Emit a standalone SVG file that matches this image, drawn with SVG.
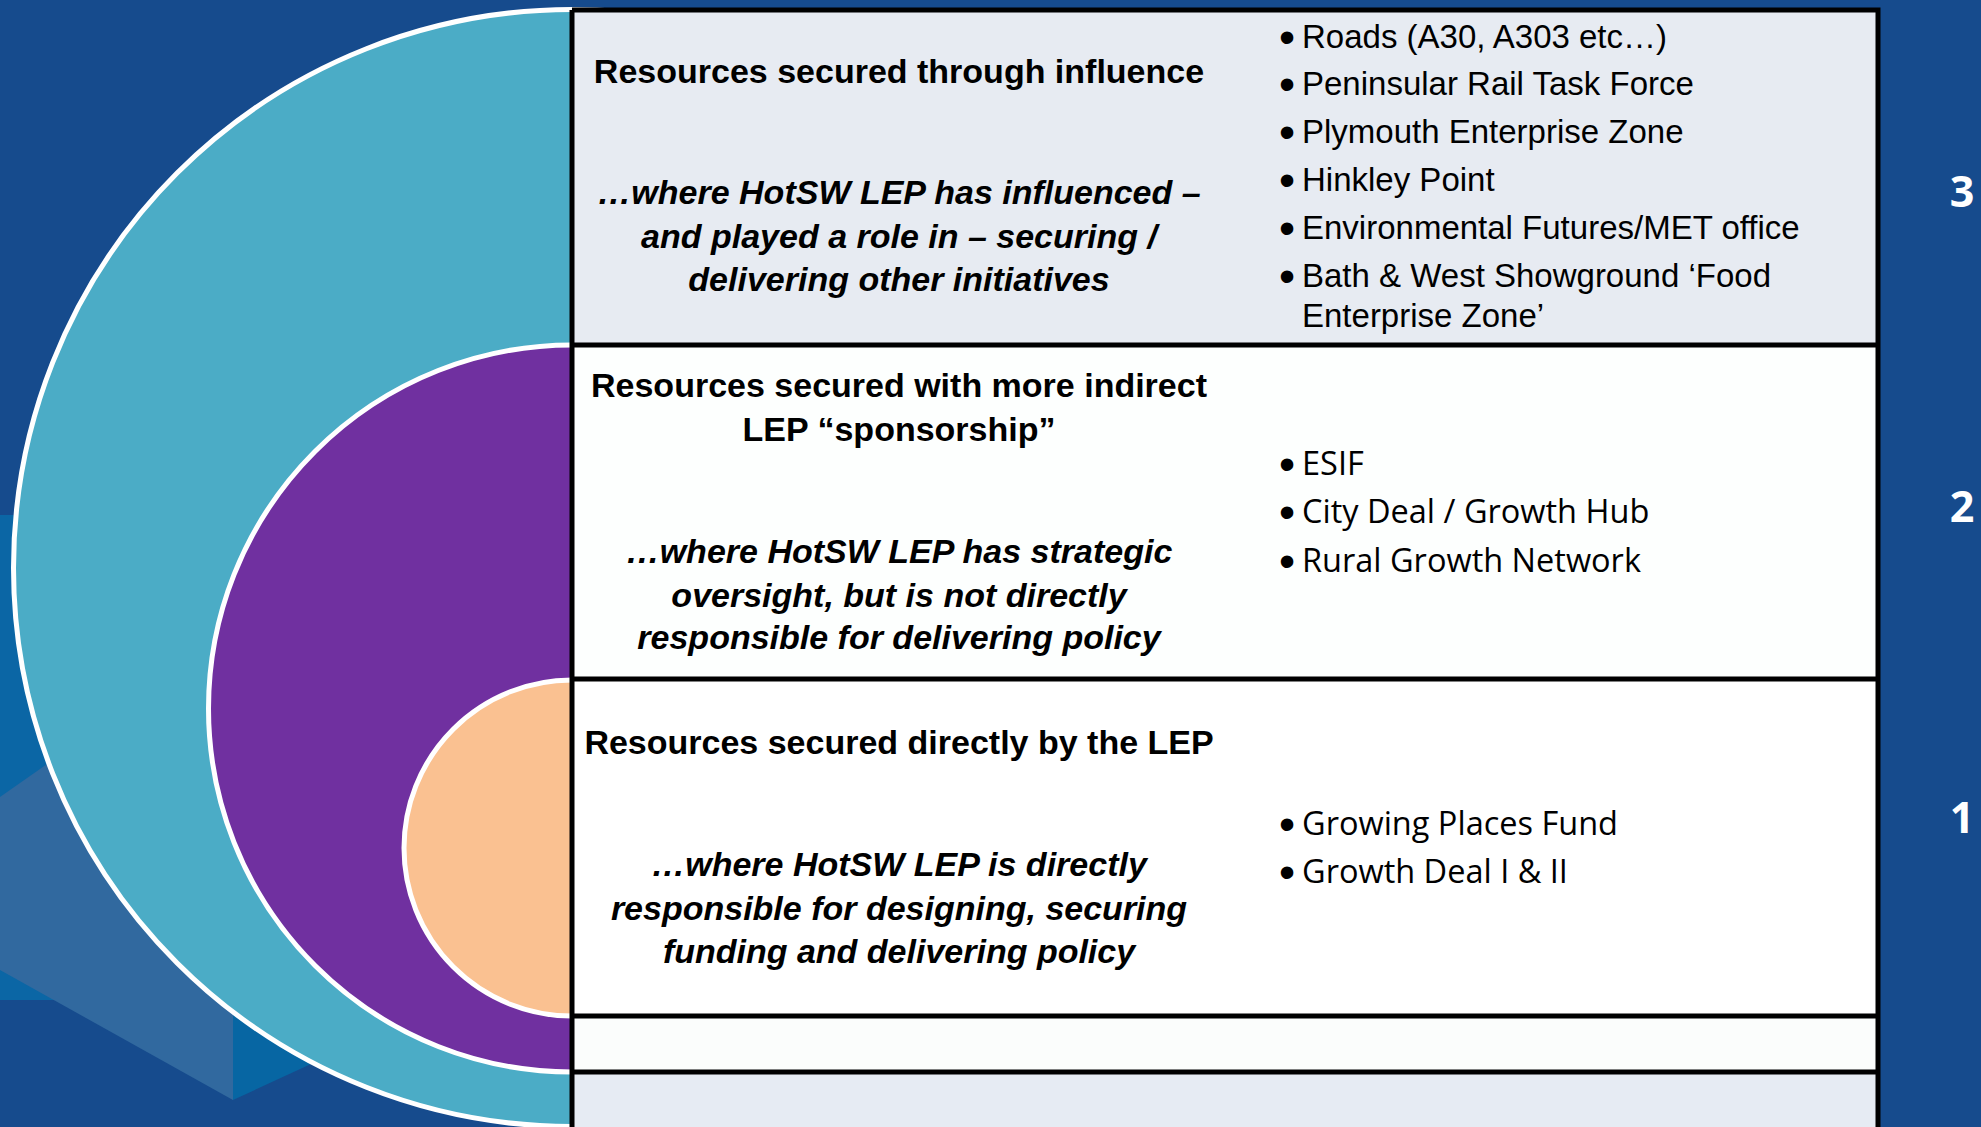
<svg xmlns="http://www.w3.org/2000/svg" width="1981" height="1127" viewBox="0 0 1981 1127">
<style>
.t{font-family:"Liberation Sans",Arial,sans-serif;font-size:34px;fill:#000}
.b{font-weight:bold}
.i{font-weight:bold;font-style:italic}
.c{text-anchor:middle}
.r1{font-size:33px}
.o{font-family:"Open Sans","Liberation Sans",sans-serif;font-size:32.5px}
.bul{font-family:"Liberation Sans",Arial,sans-serif;font-size:46px;fill:#000}
.num{font-family:"Open Sans","Liberation Sans",sans-serif;font-weight:700;font-size:43px;fill:#fff;text-anchor:middle}
.ring{stroke:#fff;stroke-width:5}
.grid{stroke:#000;stroke-width:5;fill:none}
</style>
<g id="background">
<rect x="0" y="0" width="1981" height="1127" fill="#164B8D"/>
<polygon points="0,515 140,515 140,1000 0,1000" fill="#0B66A5"/>
<polygon points="0,797 233,634 233,1100 0,970" fill="#31699F"/>
<polygon points="233,900 450,900 450,1000 233,1100" fill="#0766A3"/>
</g>
<g id="ring-outer">
<circle class="ring" cx="572" cy="568" r="558.5" fill="#4BACC6"/>
</g>
<g id="ring-middle">
<circle class="ring" cx="572" cy="708.5" r="363.5" fill="#7030A0"/>
</g>
<g id="ring-inner">
<circle class="ring" cx="572" cy="848" r="168" fill="#FAC191"/>
</g>
<g id="table">
<rect x="572" y="10" width="1306" height="335" fill="#E7EBF2"/>
<rect x="572" y="345" width="1306" height="334" fill="#FDFFFE"/>
<rect x="572" y="679" width="1306" height="337" fill="#FFFFFF"/>
<rect x="572" y="1016" width="1306" height="56" fill="#FBFDFC"/>
<rect x="572" y="1072" width="1306" height="60" fill="#E6EBF3"/>
<path class="grid" d="M572,10 H1878 V1132 M572,10 V1132 M572,345 H1878 M572,679 H1878 M572,1016 H1878 M572,1072 H1878"/>
</g>
<g id="row3">
<text class="t b c" x="899" y="83">Resources secured through influence</text>
<text class="t i c" x="899" y="204">…where HotSW LEP has influenced –</text>
<text class="t i c" x="899" y="248">and played a role in – securing /</text>
<text class="t i c" x="899" y="291">delivering other initiatives</text>
<text class="bul" x="1279" y="53">•</text>
<text class="bul" x="1279" y="100">•</text>
<text class="bul" x="1279" y="148">•</text>
<text class="bul" x="1279" y="196">•</text>
<text class="bul" x="1279" y="244">•</text>
<text class="bul" x="1279" y="292">•</text>
<text class="t r1" x="1302" y="48">Roads (A30, A303 etc…)</text>
<text class="t r1" x="1302" y="95">Peninsular Rail Task Force</text>
<text class="t r1" x="1302" y="143">Plymouth Enterprise Zone</text>
<text class="t r1" x="1302" y="191">Hinkley Point</text>
<text class="t r1" x="1302" y="239">Environmental Futures/MET office</text>
<text class="t r1" x="1302" y="287">Bath &amp; West Showground ‘Food</text>
<text class="t r1" x="1302" y="327">Enterprise Zone’</text>
</g>
<g id="row2">
<text class="t b c" x="899" y="397">Resources secured with more indirect</text>
<text class="t b c" x="899" y="441">LEP “sponsorship”</text>
<text class="t i c" x="899" y="563">…where HotSW LEP has strategic</text>
<text class="t i c" x="899" y="607">oversight, but is not directly</text>
<text class="t i c" x="899" y="649">responsible for delivering policy</text>
<text class="bul" x="1279" y="480">•</text>
<text class="bul" x="1279" y="528">•</text>
<text class="bul" x="1279" y="577">•</text>
<text class="t o" x="1302" y="475">ESIF</text>
<text class="t o" x="1302" y="523">City Deal / Growth Hub</text>
<text class="t o" x="1302" y="572">Rural Growth Network</text>
</g>
<g id="row1">
<text class="t b c" x="899" y="754">Resources secured directly by the LEP</text>
<text class="t i c" x="899" y="876">…where HotSW LEP is directly</text>
<text class="t i c" x="899" y="920">responsible for designing, securing</text>
<text class="t i c" x="899" y="963">funding and delivering policy</text>
<text class="bul" x="1279" y="840">•</text>
<text class="bul" x="1279" y="888">•</text>
<text class="t o" x="1302" y="835">Growing Places Fund</text>
<text class="t o" x="1302" y="883">Growth Deal I &amp; II</text>
</g>
<g id="levels">
<text class="num" x="1962" y="207">3</text>
<text class="num" x="1962" y="522">2</text>
<text class="num" x="1962" y="833">1</text>
</g>
</svg>
